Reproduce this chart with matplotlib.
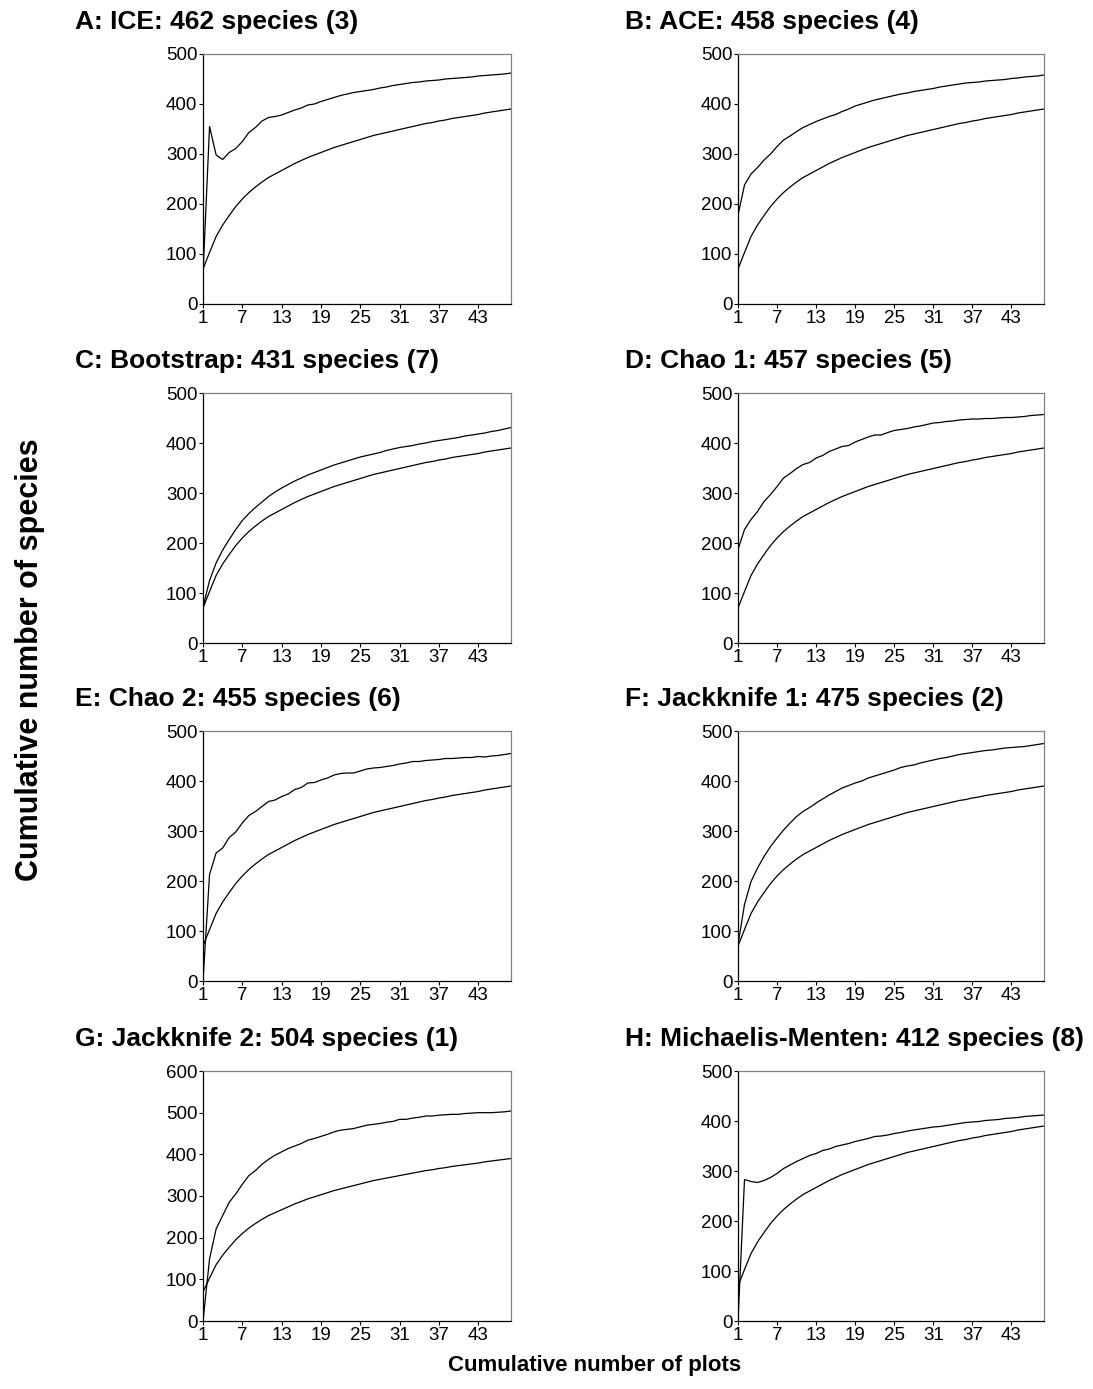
import matplotlib
matplotlib.use("Agg")
import matplotlib.pyplot as plt
import numpy as np

plots = np.arange(1, 49)

# observed species accumulation (same curve in every panel)
observed = [70, 103, 135, 158, 177, 195, 210, 223, 234, 244, 253, 260, 267, 274, 281, 287,
            293, 298, 303, 308, 313, 317, 321, 325, 329, 333, 337, 340, 343, 346, 349, 352,
            355, 358, 361, 363, 366, 368, 371, 373, 375, 377, 379, 382, 384, 386, 388, 390]

ice = [60, 355, 298, 289, 303, 311, 325, 343, 353, 366, 373, 375, 378, 383, 388, 392,
       398, 400, 405, 409, 413, 417, 420, 423, 425, 427, 429, 432, 434, 437, 439, 441,
       443, 444, 446, 447, 448, 450, 451, 452, 453, 454, 456, 457, 458, 459, 460, 462]

ace = [178, 238, 260, 273, 288, 300, 315, 328, 336, 345, 353, 359, 365, 370, 375, 379,
       385, 390, 396, 400, 404, 408, 411, 414, 417, 420, 422, 425, 427, 429, 431, 434,
       436, 438, 440, 442, 443, 444, 446, 447, 448, 449, 451, 452, 454, 455, 456, 458]

bootstrap = [72, 125, 160, 186, 207, 227, 245, 259, 271, 282, 293, 302, 310, 317, 324, 330,
             336, 341, 346, 351, 356, 360, 364, 368, 372, 375, 378, 381, 385, 388, 391, 393,
             395, 398, 400, 403, 405, 407, 409, 411, 414, 416, 418, 420, 423, 425, 428, 431]

chao1 = [187, 227, 247, 263, 283, 297, 313, 330, 339, 349, 357, 361, 370, 375, 383, 388,
         393, 395, 402, 407, 412, 416, 416, 421, 425, 427, 429, 432, 434, 437, 440, 441,
         443, 444, 446, 447, 448, 448, 449, 449, 450, 451, 451, 452, 453, 455, 456, 457]

chao2 = [0, 213, 256, 266, 287, 298, 316, 331, 339, 349, 359, 362, 369, 374, 383, 387,
         396, 397, 402, 406, 412, 415, 416, 416, 420, 424, 426, 427, 429, 431, 434, 436,
         439, 439, 441, 442, 443, 445, 445, 446, 447, 447, 449, 448, 450, 451, 453, 455]

jack1 = [73, 153, 199, 226, 249, 269, 286, 302, 316, 329, 339, 347, 356, 364, 372, 379,
         386, 391, 396, 400, 406, 410, 414, 418, 422, 427, 430, 432, 436, 439, 442, 445,
         447, 450, 453, 455, 457, 459, 461, 462, 464, 466, 467, 468, 469, 471, 473, 475]

jack2 = [0, 149, 221, 253, 285, 305, 328, 349, 361, 376, 388, 398, 406, 414, 420, 426,
         434, 438, 443, 448, 454, 458, 460, 462, 466, 470, 472, 474, 477, 479, 484, 484,
         487, 489, 492, 492, 494, 495, 496, 496, 498, 499, 500, 500, 500, 501, 502, 504]

mm = [0, 283, 279, 277, 281, 287, 295, 305, 312, 319, 325, 331, 335, 341, 344, 349,
      352, 355, 359, 362, 365, 369, 370, 372, 375, 377, 380, 382, 384, 386, 388, 389,
      391, 393, 395, 397, 398, 399, 401, 402, 403, 405, 406, 407, 409, 410, 411, 412]

titles = ["A: ICE: 462 species (3)", "B: ACE: 458 species (4)",
          "C: Bootstrap: 431 species (7)", "D: Chao 1: 457 species (5)",
          "E: Chao 2: 455 species (6)", "F: Jackknife 1: 475 species (2)",
          "G: Jackknife 2: 504 species (1)", "H: Michaelis-Menten: 412 species (8)"]
estimates = [ice, ace, bootstrap, chao1, chao2, jack1, jack2, mm]
y_tops = [500, 500, 500, 500, 500, 500, 600, 500]
x_ticks = [1, 7, 13, 19, 25, 31, 37, 43]

W, H = 1093, 1389
fig = plt.figure(figsize=(W / 100, H / 100), dpi=100)

sans = ["Liberation Sans", "DejaVu Sans"]

col_x = [203, 738]
col_w = [308, 306]
row_top = [54, 393, 731, 1071]
ax_h = 250
title_x = [75, 625]

for i, (title, est, ytop) in enumerate(zip(titles, estimates, y_tops)):
    r, c = divmod(i, 2)
    left = col_x[c] / W
    bottom = 1 - (row_top[r] + ax_h) / H
    ax = fig.add_axes([left, bottom, col_w[c] / W, ax_h / H])

    ax.plot(plots, observed, color="black", lw=0.9)
    ax.plot(plots, est, color="black", lw=0.9)

    ax.set_xlim(1, 48)
    ax.set_ylim(0, ytop)
    ax.set_xticks(x_ticks)
    ax.set_yticks(np.arange(0, ytop + 1, 100))
    for lab in ax.get_xticklabels() + ax.get_yticklabels():
        lab.set_family(sans)
        lab.set_fontsize(13.5)
    ax.tick_params(axis="both", direction="out", length=3, width=0.8, pad=1, colors="black")

    ax.spines["left"].set_color("black")
    ax.spines["bottom"].set_color("black")
    ax.spines["top"].set_color("#808080")
    ax.spines["right"].set_color("#808080")
    for s in ax.spines.values():
        s.set_linewidth(0.9)

    fig.text(title_x[c] / W, 1 - (row_top[r] - 32) / H, title,
             family=sans, fontweight="bold", fontsize=19, ha="left", va="center")

fig.text(30 / W, 1 - 660 / H, "Cumulative number of species",
         family=sans, fontweight="bold", fontsize=22, rotation=90, ha="center", va="center")
fig.text(595 / W, 1 - 1366 / H, "Cumulative number of plots",
         family=sans, fontweight="bold", fontsize=16, ha="center", va="center")

fig.savefig("out.png", dpi=100)
